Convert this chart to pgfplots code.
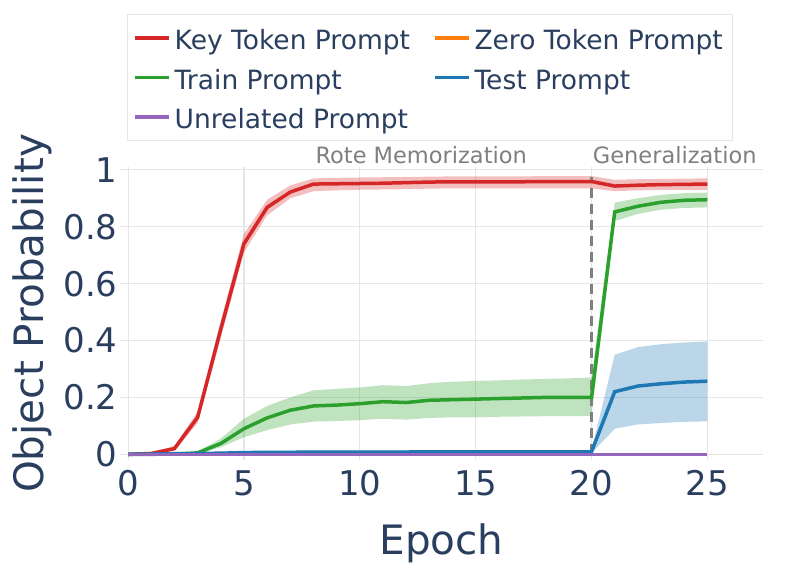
\documentclass[border=0pt]{standalone}
\usepackage{fontspec}
\setmainfont{DejaVu Sans}
\usepackage{pgfplots}
\pgfplotsset{compat=1.18}
\usepackage{pgfplotstable}
\usepgfplotslibrary{fillbetween}

\definecolor{cred}{HTML}{D62728}
\definecolor{corange}{HTML}{FF7F0E}
\definecolor{cgreen}{HTML}{2CA02C}
\definecolor{cblue}{HTML}{1F77B4}
\definecolor{cpurple}{HTML}{9467BD}
\definecolor{textc}{HTML}{2A3F5F}
\definecolor{gridc}{HTML}{E6E6E6}
\definecolor{annc}{HTML}{7F7F7F}

% epoch, key token (mean, low, high), train (mean, low, high), test (mean, low, high), unrelated, zero token
\pgfplotstableread{
ep  key    klo    khi    trn    tlo    thi    tst    slo    shi    unr  zer
0   0.000  0.000  0.002  0.000  0.000  0.000  0.000  0.000  0.001  0  0
1   0.003  0.000  0.006  0.000  0.000  0.000  0.001  0.000  0.002  0  0
2   0.020  0.012  0.030  0.001  0.000  0.002  0.002  0.000  0.004  0  0
3   0.130  0.110  0.150  0.005  0.002  0.010  0.003  0.001  0.006  0  0
4   0.440  0.410  0.470  0.038  0.025  0.055  0.004  0.001  0.008  0  0
5   0.740  0.710  0.775  0.090  0.060  0.125  0.006  0.002  0.010  0  0
6   0.868  0.840  0.895  0.128  0.085  0.170  0.007  0.003  0.012  0  0
7   0.922  0.900  0.945  0.155  0.105  0.200  0.007  0.003  0.012  0  0
8   0.950  0.925  0.970  0.170  0.115  0.225  0.008  0.003  0.013  0  0
9   0.951  0.928  0.972  0.173  0.117  0.230  0.008  0.003  0.013  0  0
10  0.952  0.930  0.973  0.178  0.120  0.235  0.008  0.003  0.013  0  0
11  0.953  0.931  0.974  0.185  0.125  0.243  0.008  0.003  0.013  0  0
12  0.955  0.932  0.975  0.182  0.122  0.240  0.008  0.003  0.013  0  0
13  0.957  0.934  0.976  0.190  0.128  0.250  0.009  0.004  0.014  0  0
14  0.958  0.935  0.977  0.192  0.130  0.255  0.009  0.004  0.014  0  0
15  0.958  0.935  0.977  0.194  0.130  0.258  0.009  0.004  0.014  0  0
16  0.958  0.935  0.977  0.196  0.132  0.260  0.009  0.004  0.014  0  0
17  0.958  0.935  0.977  0.198  0.133  0.263  0.009  0.004  0.014  0  0
18  0.959  0.935  0.978  0.200  0.134  0.265  0.009  0.004  0.014  0  0
19  0.959  0.935  0.978  0.200  0.134  0.267  0.009  0.004  0.014  0  0
20  0.959  0.935  0.978  0.200  0.135  0.270  0.009  0.004  0.014  0  0
21  0.943  0.925  0.965  0.852  0.820  0.885  0.220  0.090  0.350  0  0
22  0.946  0.928  0.967  0.872  0.845  0.900  0.240  0.105  0.377  0  0
23  0.948  0.929  0.968  0.886  0.860  0.912  0.248  0.110  0.387  0  0
24  0.949  0.930  0.969  0.893  0.866  0.918  0.254  0.114  0.393  0  0
25  0.950  0.930  0.970  0.895  0.868  0.920  0.257  0.116  0.397  0  0
}\data

\begin{document}
\begin{tikzpicture}
\begin{axis}[
  at={(0pt,0pt)}, anchor=south west,
  scale only axis, width=643pt, height=293pt,
  xmin=-0.35, xmax=27.4, ymin=-0.02, ymax=1.01,
  clip=false,
  axis line style={draw=none},
  major tick length=0pt,
  xtick={0,5,10,15,20,25},
  ytick={0,0.2,0.4,0.6,0.8,1},
  yticklabels={0,0.2,0.4,0.6,0.8,1},
  grid=major,
  major grid style={gridc, line width=1.2pt},
  tick label style={font=\fontsize{34}{34}\selectfont, text=textc},
  /pgf/number format/assume math mode=true,
  xticklabel style={yshift=-7pt},
  yticklabel style={xshift=1pt},
  xlabel={Epoch}, ylabel={Object Probability},
  label style={font=\fontsize{40.5}{40.5}\selectfont, text=textc},
  xlabel style={at={(axis description cs:0.5,-0.283)}, anchor=center},
  ylabel style={at={(axis description cs:-0.137,0.5)}, anchor=center},
  legend columns=2,
  legend cell align=left,
  legend image code/.code={\draw[#1, line width=3.5pt] (0pt,0pt) -- (34pt,0pt);},
  legend style={at={(axis description cs:0.011,1.522)}, anchor=north west,
    draw=gridc, line width=1.2pt, fill=white, text=textc,
    font=\fontsize{26.5}{26.5}\selectfont,
    nodes={inner ysep=0pt, inner xsep=3.5pt, text height=29pt, text depth=6pt},
    inner xsep=6pt, inner ysep=6pt, row sep=4.5pt,
    /tikz/every even column/.append style={column sep=20pt}},
]
% uncertainty bands
\addplot[name path=kh, draw=none, forget plot] table[x=ep, y=khi] {\data};
\addplot[name path=kl, draw=none, forget plot] table[x=ep, y=klo] {\data};
\addplot[cred, opacity=0.3, draw=none, forget plot] fill between[of=kh and kl];
\addplot[name path=th, draw=none, forget plot] table[x=ep, y=thi] {\data};
\addplot[name path=tl, draw=none, forget plot] table[x=ep, y=tlo] {\data};
\addplot[cgreen, opacity=0.3, draw=none, forget plot] fill between[of=th and tl];
\addplot[name path=sh, draw=none, forget plot] table[x=ep, y=shi] {\data};
\addplot[name path=sl, draw=none, forget plot] table[x=ep, y=slo] {\data};
\addplot[cblue, opacity=0.3, draw=none, forget plot] fill between[of=sh and sl];

% phase boundary
\draw[annc, line width=2.5pt, dash pattern=on 10pt off 6pt] (axis cs:20,0) -- (axis cs:20,0.975);
\node[annc, font=\fontsize{22.5}{22.5}\selectfont] at (axis cs:12.65,1.053) {Rote Memorization};
\node[annc, font=\fontsize{22.5}{22.5}\selectfont, anchor=west, inner sep=0pt] at (axis cs:20.05,1.053) {Generalization};

% mean curves
\addplot[cred, line width=3.5pt] table[x=ep, y=key] {\data};
\addlegendentry{Key Token Prompt}
\addplot[corange, line width=3.5pt] table[x=ep, y=zer] {\data};
\addlegendentry{Zero Token Prompt}
\addplot[cgreen, line width=3.5pt] table[x=ep, y=trn] {\data};
\addlegendentry{Train Prompt}
\addplot[cblue, line width=3.5pt] table[x=ep, y=tst] {\data};
\addlegendentry{Test Prompt}
\addplot[cpurple, line width=3.5pt] table[x=ep, y=unr] {\data};
\addlegendentry{Unrelated Prompt}
\end{axis}
\path (-120pt,-110pt) rectangle (677pt,460pt);
\end{tikzpicture}
\end{document}
